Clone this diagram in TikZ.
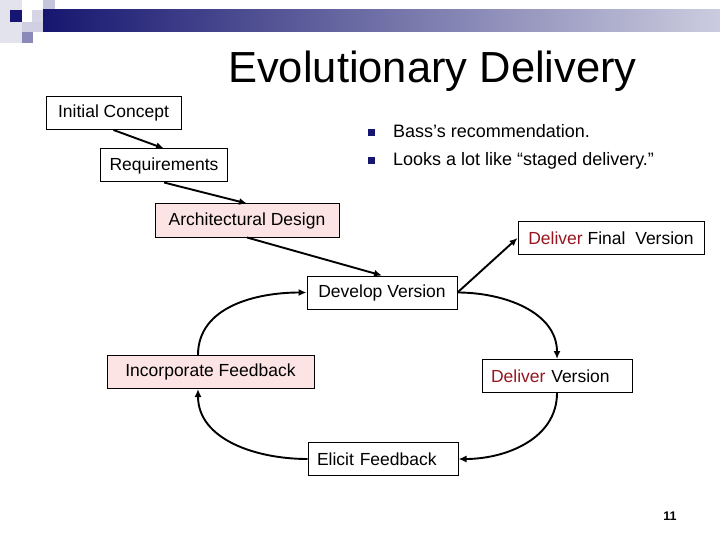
\documentclass[tikz,border=0pt]{standalone}
\usepackage{fontspec}
\setmainfont{Liberation Sans}
\usepackage{xcolor}
\usetikzlibrary{arrows.meta}

\definecolor{navy}{RGB}{22,22,112}
\definecolor{pinkfill}{RGB}{253,228,228}
\definecolor{deliverred}{RGB}{150,22,32}

\tikzset{
  stage/.style={draw, line width=1pt, inner xsep=9pt, inner ysep=0pt,
    minimum height=33pt, font=\fontsize{17.5}{20}\selectfont},
  flow/.style={line width=1.9pt, -{Latex[length=8pt,width=7pt]}},
}

\begin{document}
\begin{tikzpicture}[x=1pt,y=-1pt]
    \useasboundingbox (0,0) rectangle (720,540);
    % Header squares and bar
    \fill[navy!12] (0,0) rectangle (22,43);
    \fill[navy!18] (32,10) rectangle (43,22);
    \fill[navy!25] (43,0) rectangle (55,10);
    \fill[navy!40] (43,10) rectangle (55,22);
    \fill[navy!20] (22,22) rectangle (43,32);
    \fill[navy!50] (22,32) rectangle (33,43);
    \fill[navy] (10,10) rectangle (22,22);
    \shade[left color=navy, right color=navy!22] (43,10) rectangle (720,32);
    % Title
    \node[anchor=base, font=\fontsize{43.5}{50}\selectfont] (title) at (432.5,83) {Evolutionary Delivery};
    % Bullets
    \fill[navy] (368,129) rectangle (375,136);
    \fill[navy] (368,157) rectangle (375,164);
    \node[anchor=base west, inner sep=0pt, font=\fontsize{18}{21}\selectfont] (bass) at (393,138) {Bass’s recommendation.};
    \node[anchor=base west, inner sep=0pt, font=\fontsize{18}{21}\selectfont] (staged) at (393,166) {Looks a lot like “staged delivery.”};
    % Waterfall part
    \node[stage, minimum width=135pt] (init) at (113.5,113) {Initial Concept};
    \node[stage, minimum width=126pt] (req) at (164,165.5) {Requirements};
    \node[stage, minimum width=184pt, fill=pinkfill] (arch) at (247,220.5) {Architectural Design};
    \node[stage, minimum width=150pt] (dev) at (382,292.5) {Develop Version};
    \node[stage, minimum width=186pt] (final) at (611,238) {\textcolor{deliverred}{Deliver} Final~ Version};
    % Feedback loop
    \node[stage, text width=132pt, align=left] (deliv) at (557,376) {\textcolor{deliverred}{Deliver} Version};
    \node[stage, text width=132pt, align=left] (elicit) at (383,459) {Elicit Feedback};
    \node[stage, minimum width=207pt, fill=pinkfill] (incorp) at (210.5,372) {Incorporate Feedback};
    % Connectors
    \draw[flow] (init.south) -- (req.north);
    \draw[flow] (req.south) -- (arch.north);
    \draw[flow] (arch.south) -- (dev.north);
    \draw[flow] (dev.east) -- (final.west);
    \draw[flow] (dev.east) to[out=0,in=90] (deliv.north);
    \draw[flow] (deliv.south) to[out=-90,in=0] (elicit.east);
    \draw[flow] (elicit.west) to[out=180,in=-90] ([xshift=-12.5pt]incorp.south);
    \draw[flow] ([xshift=-12.5pt]incorp.north) to[out=90,in=180] (dev.west);
    % Page number
    \node[anchor=base, font=\fontsize{12.5}{15}\selectfont\bfseries] (page) at (670,520) {11};
\end{tikzpicture}
\end{document}
